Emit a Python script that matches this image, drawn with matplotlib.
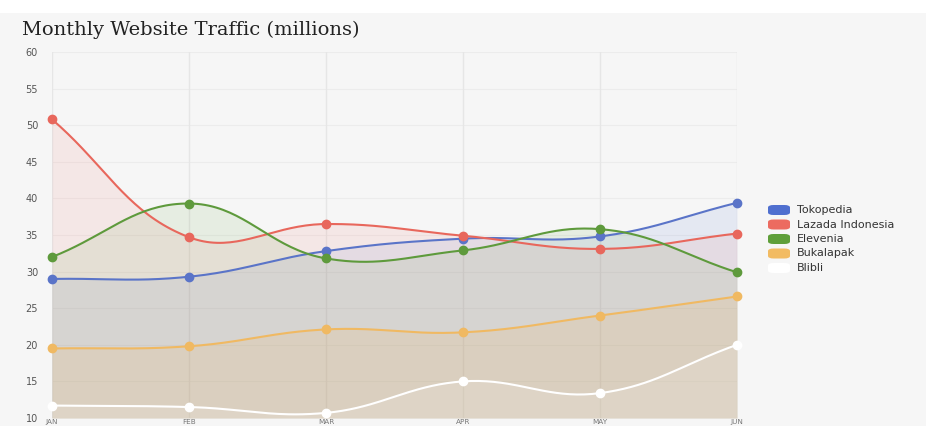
import numpy as np
import matplotlib
matplotlib.use("Agg")
import matplotlib.pyplot as plt
from matplotlib.patches import FancyBboxPatch, Rectangle

months = ["JAN", "FEB", "MAR", "APR", "MAY", "JUN"]
tokopedia = [29.0, 29.3, 32.8, 34.5, 34.8, 39.4]
lazada = [50.8, 34.7, 36.5, 34.9, 33.1, 35.2]
elevenia = [32.0, 39.3, 31.8, 32.9, 35.8, 29.9]
bukalapak = [19.5, 19.8, 22.1, 21.7, 24.0, 26.6]
blibli = [11.7, 11.5, 10.7, 15.0, 13.4, 20.0]
series_names = ["Tokopedia", "Lazada Indonesia", "Elevenia", "Bukalapak", "Blibli"]
series_values = [tokopedia, lazada, elevenia, bukalapak, blibli]
colors = ["#4f6fcf", "#ec6b60", "#5f9f3a", "#f2bb62", "#ffffff"]
line_colors = ["#5a74c8", "#e8675c", "#5e9a3c", "#f0b962", "#ffffff"]
y_ticks = list(range(10, 61, 5))

W, H = 926, 426
fig = plt.figure(figsize=(W / 100, H / 100), dpi=100)
fig.patch.set_facecolor("#f6f6f6")
fig.patches.append(Rectangle((0, 1 - 13 / H), 1, 13 / H, transform=fig.transFigure,
                             facecolor="white", edgecolor="none", zorder=0))

left, right = 52, 737
top, bottom = 52, 418
ax = fig.add_axes([left / W, (H - bottom) / H, (right - left) / W, (bottom - top) / H])
ax.set_facecolor("#f6f6f6")
ax.set_xlim(0, len(months) - 1)
ax.set_ylim(10, 60)

sx = (right - left) / (len(months) - 1)
sy = (bottom - top) / 50.0


def chartjs_spline(xs, ys, t=0.4, n=40):
    px = np.array(xs, float) * sx
    py = np.array(ys, float) * sy
    N = len(px)
    cpp = np.zeros((N, 2))
    cpn = np.zeros((N, 2))
    for i in range(N):
        p = np.array([px[max(i - 1, 0)], py[max(i - 1, 0)]])
        c = np.array([px[i], py[i]])
        nx = np.array([px[min(i + 1, N - 1)], py[min(i + 1, N - 1)]])
        d01 = np.hypot(*(c - p))
        d12 = np.hypot(*(nx - c))
        s = d01 + d12
        fa = d01 / s if s else 0
        fb = d12 / s if s else 0
        cpp[i] = c - t * fa * (nx - p)
        cpn[i] = c + t * fb * (nx - p)
    outx, outy = [], []
    u = np.linspace(0, 1, n)
    for i in range(N - 1):
        P0 = np.array([px[i], py[i]])
        P3 = np.array([px[i + 1], py[i + 1]])
        P1, P2 = cpn[i], cpp[i + 1]
        b = ((1 - u) ** 3)[:, None] * P0 + (3 * (1 - u) ** 2 * u)[:, None] * P1 + \
            (3 * (1 - u) * u ** 2)[:, None] * P2 + (u ** 3)[:, None] * P3
        outx.extend(b[:, 0] / sx)
        outy.extend(b[:, 1] / sy)
    return np.array(outx), np.array(outy)


for yt in y_ticks:
    ax.axhline(yt, color="#ececec", lw=0.8, zorder=0)
for i in range(len(months)):
    ax.axvline(i, color="#e6e6e6", lw=1.0, zorder=0)

x = np.arange(len(months))
alphas = [0.10, 0.10, 0.10, 0.16, 0.12]
for vals, col, lcol, a in zip(series_values, colors, line_colors, alphas):
    cx, cy = chartjs_spline(x, vals)
    ax.fill_between(cx, cy, 10, color=col, alpha=a, lw=0, zorder=1)
for vals, col, lcol in zip(series_values, colors, line_colors):
    cx, cy = chartjs_spline(x, vals)
    ax.plot(cx, cy, color=lcol, lw=1.5, zorder=3, solid_capstyle="round")
    ax.plot(x, vals, "o", color=lcol, ms=6, mec=lcol, zorder=4, clip_on=False)

for s in ax.spines.values():
    s.set_visible(False)
ax.set_yticks(y_ticks)
ax.set_yticklabels([str(v) for v in y_ticks], fontsize=7, color="#555555", family="DejaVu Sans")
ax.tick_params(axis="y", length=0, pad=10)
ax.set_xticks([])
for i, m in enumerate(months):
    fig.text((left + i * sx) / W, (H - 419) / H, m, ha="center", va="top",
             fontsize=5.2, color="#777777")

fig.text(22 / W, 1 - 35 / H, "Monthly Website Traffic (millions)", fontsize=14,
         family="DejaVu Serif", color="#222222", ha="left", va="baseline")

ly0, ldy = 210, 14.5
for k, (name, col) in enumerate(zip(series_names, colors)):
    yc = ly0 + k * ldy
    box = FancyBboxPatch(((768) / W, (H - yc - 5) / H), 22 / W, 10 / H,
                         boxstyle="round,pad=0,rounding_size=0.006",
                         transform=fig.transFigure, facecolor=col, edgecolor="none")
    fig.patches.append(box)
    fig.text(797 / W, (H - yc) / H, name, fontsize=8, color="#333333",
             ha="left", va="center")

fig.savefig("out.png", dpi=100, facecolor=fig.get_facecolor())
